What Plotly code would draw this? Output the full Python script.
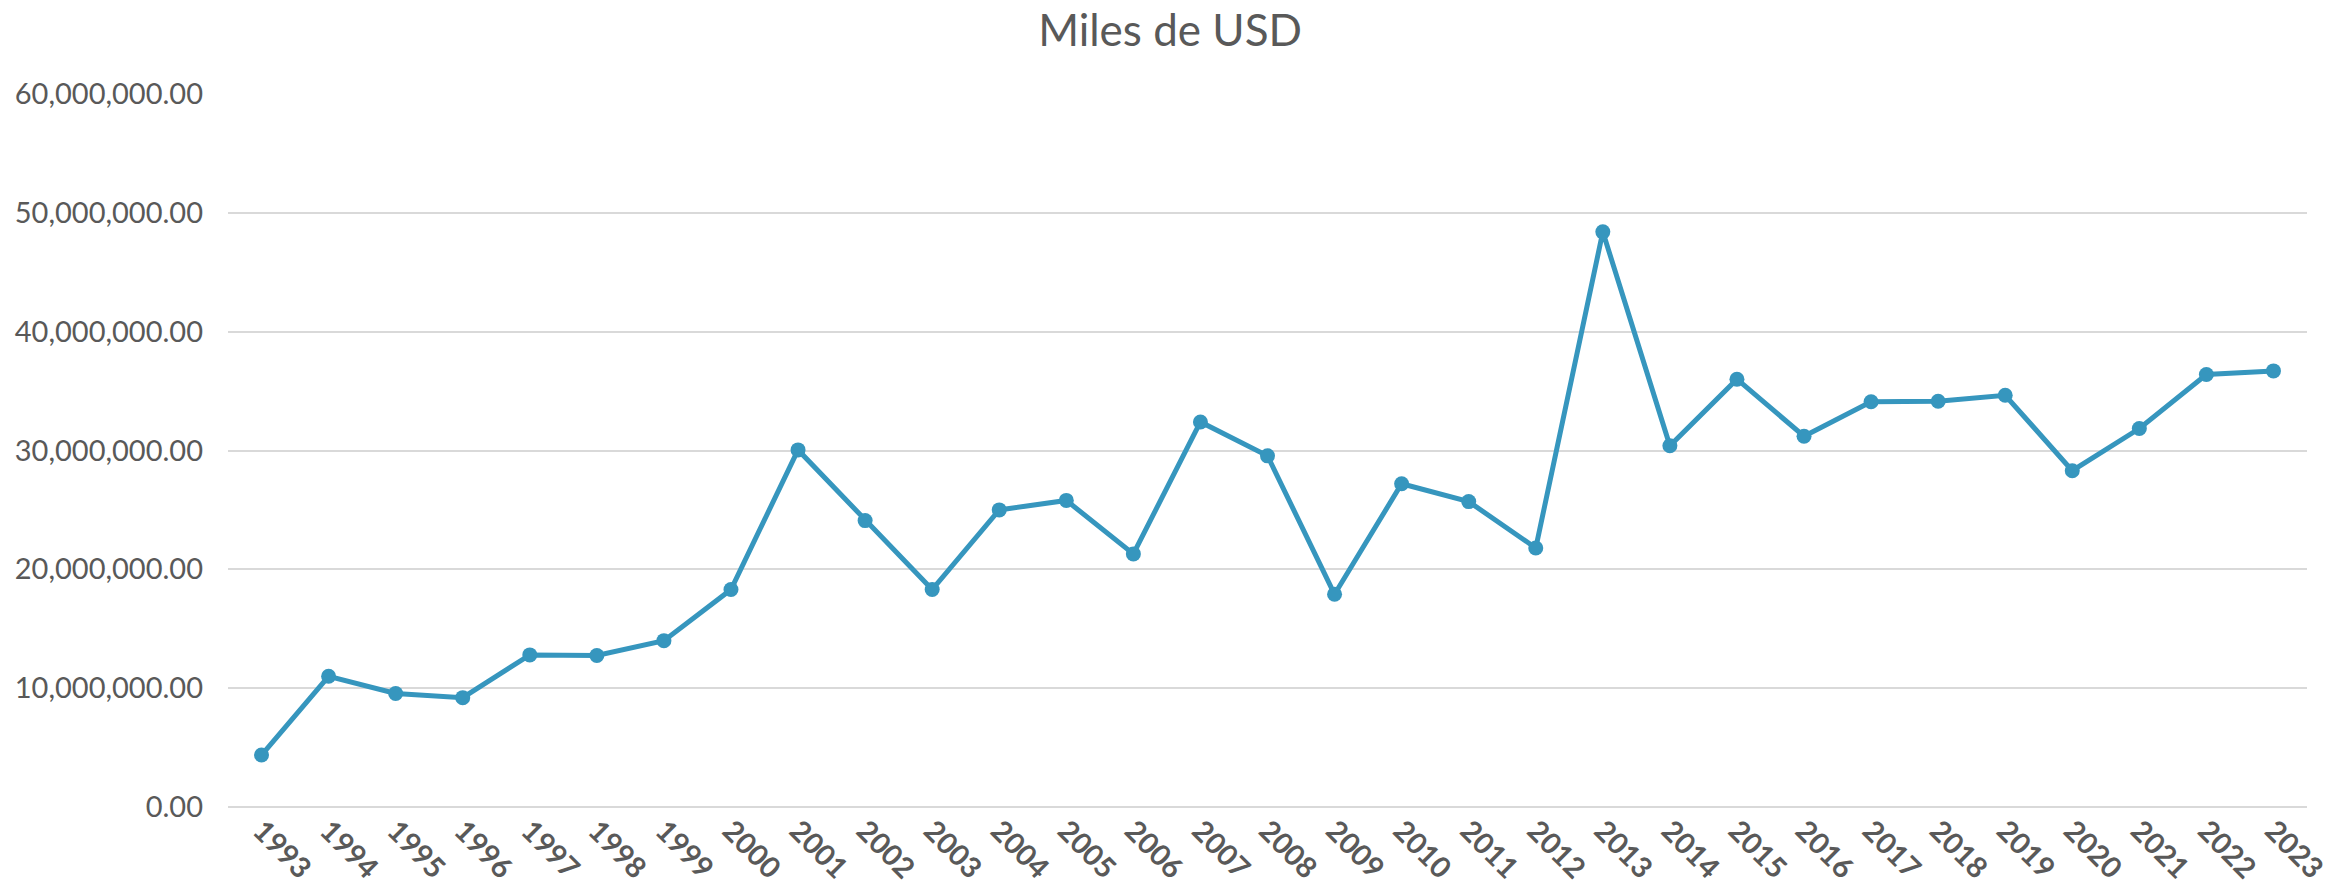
import plotly.graph_objects as go

years = [str(y) for y in range(1993, 2024)]
values = [
    4.37e6, 11.0e6, 9.55e6, 9.2e6, 12.8e6, 12.75e6, 14.0e6, 18.3e6, 30.05e6, 24.1e6,
    18.3e6, 25.0e6, 25.8e6, 21.3e6, 32.4e6, 29.55e6, 17.9e6, 27.2e6, 25.7e6, 21.8e6,
    48.4e6, 30.4e6, 36.0e6, 31.2e6, 34.1e6, 34.15e6, 34.65e6, 28.3e6, 31.85e6, 36.4e6,
    36.7e6,
]
y_ticks = [0, 10e6, 20e6, 30e6, 40e6, 50e6, 60e6]
title_text = "Miles de USD"

color = "rgb(54,150,190)"
text_color = "#595959"
font_family = "Lato"

fig = go.Figure()
fig.add_trace(go.Scatter(
    x=years, y=values, mode="lines+markers",
    line=dict(color=color, width=5),
    marker=dict(color=color, size=15),
    hoverinfo="x+y",
))

fig.update_layout(
    width=2351, height=896,
    paper_bgcolor="white", plot_bgcolor="white",
    margin=dict(l=228, r=44, t=94, b=89),
    showlegend=False,
    title=dict(text=title_text, x=0.4977, xanchor="center", xref="container",
               y=0.966, yanchor="middle", yref="container",
               font=dict(family=font_family, size=44, color=text_color)),
    font=dict(family=font_family, color=text_color),
)
fig.update_xaxes(
    type="category", range=[-0.5, len(years) - 0.5], automargin=False,
    showgrid=False, showline=False, zeroline=False, ticks="",
    tickangle=45,
    tickfont=dict(family=font_family, size=29, color=text_color, weight="bold"),
)
fig.update_yaxes(
    range=[0, 60e6], tickvals=y_ticks, tickformat=",.2f", automargin=False,
    showgrid=True, gridcolor="#D9D9D9", gridwidth=1.8,
    zeroline=True, zerolinecolor="#D9D9D9", zerolinewidth=1.8,
    showline=False, ticks="", ticklabelstandoff=24,
    tickfont=dict(family=font_family, size=29, color=text_color),
)

fig.write_html(
    "out.html",
    config={"displayModeBar": False},
    post_script="document.body.style.margin='0';document.body.style.overflow='hidden';",
)
